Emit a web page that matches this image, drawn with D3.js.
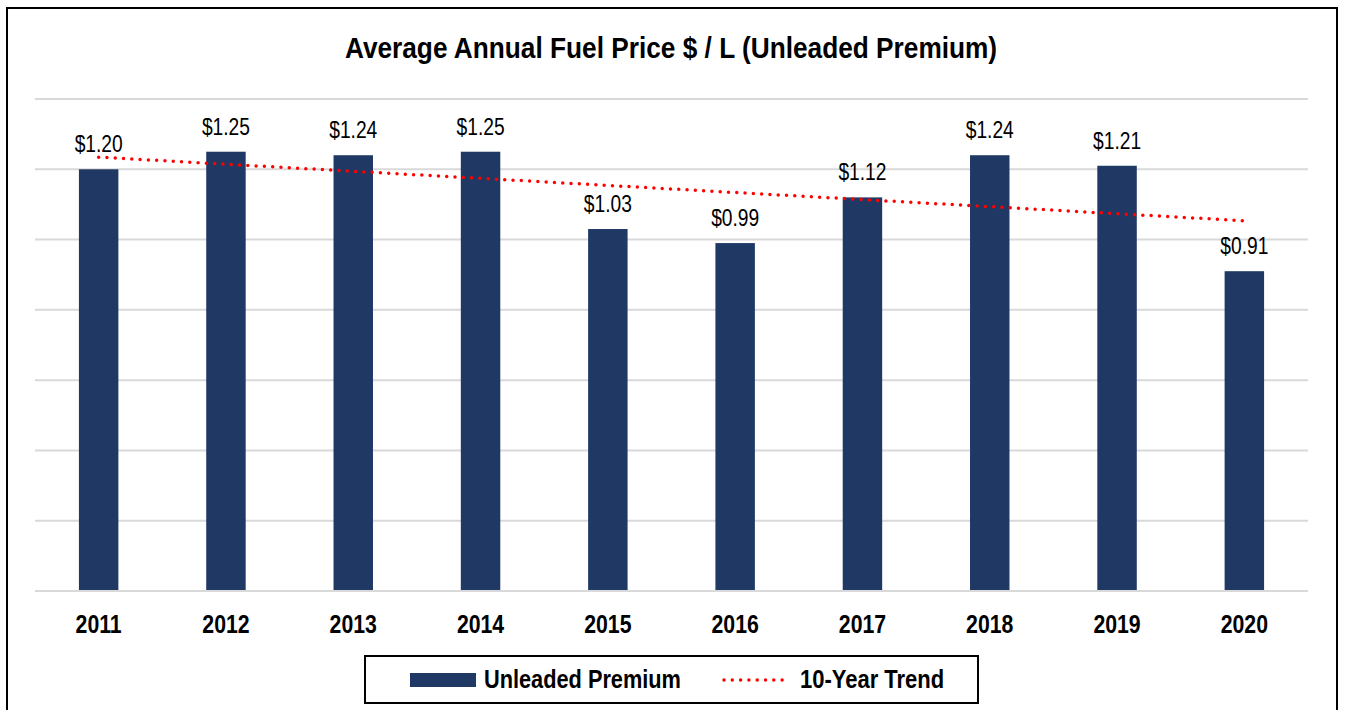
<!DOCTYPE html>
<html lang="en">
<head>
    <meta charset="UTF-8">
    <title>Average Annual Fuel Price</title>
    <script src="https://d3js.org/d3.v7.min.js"></script>
    <style>
        body { margin: 0; background: #fff; }
        svg { display: block; font-family: "Liberation Sans Narrow", "Arial Narrow", "Liberation Sans", Arial, sans-serif; }
    </style>
</head>
<body>
    <svg></svg>

    <script>
const width = 1346, height = 710;

// data
const years = ["2011", "2012", "2013", "2014", "2015", "2016", "2017", "2018", "2019", "2020"];
const prices = [1.20, 1.25, 1.24, 1.25, 1.03, 0.99, 1.12, 1.24, 1.21, 0.91];
const gridTicks = [0, 0.2, 0.4, 0.6, 0.8, 1.0, 1.2, 1.4];

const barColor = "#203864";
const trendColor = "#ff0000";

const svg = d3.select("svg")
    .attr("width", width)
    .attr("height", height);

// no narrow font available, so squeeze the regular one horizontally
function narrowText(parent, px, py, str, size, bold, squeeze, anchor) {
    return parent.append("text")
        .attr("transform", `translate(${px},${py}) scale(${squeeze},1)`)
        .attr("text-anchor", anchor || "start")
        .attr("font-size", size)
        .attr("font-weight", bold ? "bold" : "normal")
        .attr("fill", "#000")
        .text(str);
}

// outer frame
svg.append("rect")
    .attr("x", 7).attr("y", 8)
    .attr("width", 1330).attr("height", 720)
    .attr("fill", "none")
    .attr("stroke", "#000")
    .attr("stroke-width", 2);

narrowText(svg, 671, 58, "Average Annual Fuel Price $ / L (Unleaded Premium)", 30, true, 0.875, "middle");

const x = d3.scaleBand()
    .domain(years)
    .range([35, 1308])
    .paddingInner(0.69)
    .paddingOuter(0.345);

const y = d3.scaleLinear()
    .domain([0, 1.4])
    .range([591, 99]);

// gridlines
svg.append("g")
    .selectAll("line")
    .data(gridTicks)
    .join("line")
    .attr("x1", 35).attr("x2", 1308)
    .attr("y1", d => y(d)).attr("y2", d => y(d))
    .attr("stroke", "#d9d9d9")
    .attr("stroke-width", 2);

// bars
svg.append("g")
    .selectAll("rect")
    .data(prices)
    .join("rect")
    .attr("x", (d, i) => x(years[i]))
    .attr("y", d => y(d))
    .attr("width", x.bandwidth())
    .attr("height", d => y(0) - y(d) - 1)
    .attr("fill", barColor);

// value labels
const labels = svg.append("g");
prices.forEach((d, i) => {
    narrowText(labels, x(years[i]) + x.bandwidth() / 2, y(d) - 17, "$" + d.toFixed(2), 24, false, 0.8, "middle");
});

// x axis labels
const xAxis = svg.append("g")
    .attr("transform", `translate(0,${y(0)})`)
    .call(d3.axisBottom(x).tickSize(0).tickPadding(0));
xAxis.select(".domain").remove();
xAxis.attr("font-family", null).attr("font-size", null);
xAxis.selectAll("text")
    .attr("dy", null)
    .attr("y", null)
    .attr("transform", "translate(0,42) scale(0.85,1)")
    .attr("fill", "#000")
    .attr("font-size", 25)
    .attr("font-weight", "bold");

// 10-year linear trend (least squares over the bars)
const xs = prices.map((d, i) => i + 1);
const mx = d3.mean(xs), my = d3.mean(prices);
const slope = d3.sum(xs, (v, i) => (v - mx) * (prices[i] - my)) / d3.sum(xs, v => (v - mx) ** 2);
const trend = xs.map(v => my + slope * (v - mx));

svg.append("path")
    .datum(trend)
    .attr("d", d3.line()
        .x((d, i) => x(years[i]) + x.bandwidth() / 2)
        .y(d => y(d)))
    .attr("fill", "none")
    .attr("stroke", trendColor)
    .attr("stroke-width", 3.5)
    .attr("stroke-linecap", "round")
    .attr("stroke-dasharray", "0 8.3");

// legend
const legend = svg.append("g");
legend.append("rect")
    .attr("x", 365).attr("y", 656)
    .attr("width", 613).attr("height", 47)
    .attr("fill", "#fff")
    .attr("stroke", "#000")
    .attr("stroke-width", 2);
legend.append("rect")
    .attr("x", 410).attr("y", 673)
    .attr("width", 66).attr("height", 14)
    .attr("fill", barColor);
narrowText(legend, 484, 688, "Unleaded Premium", 25, true, 0.87);
legend.append("line")
    .attr("x1", 724).attr("x2", 790)
    .attr("y1", 680).attr("y2", 680)
    .attr("stroke", trendColor)
    .attr("stroke-width", 3.5)
    .attr("stroke-linecap", "round")
    .attr("stroke-dasharray", "0 8.3");
narrowText(legend, 800, 688, "10-Year Trend", 25, true, 0.88);
    </script>
</body>
</html>
